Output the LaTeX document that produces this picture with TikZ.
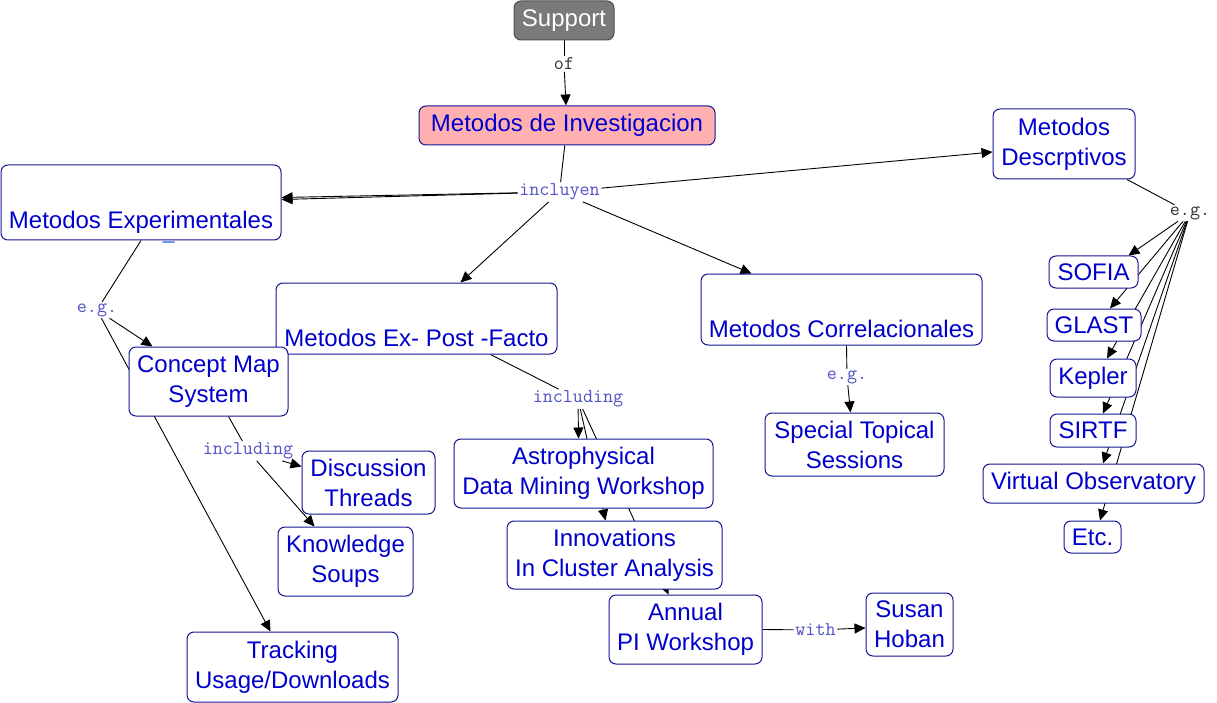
\documentclass[tikz,border=0pt]{standalone}
\usepackage{fontspec}
\setmainfont{Liberation Sans}
\usetikzlibrary{arrows.meta}
\pgfdeclarelayer{bg}
\pgfsetlayers{bg,main}
\definecolor{boxtext}{RGB}{0,0,204}
\definecolor{boxline}{RGB}{20,20,150}
\definecolor{lbltext}{RGB}{80,80,200}
\definecolor{lbldark}{RGB}{50,50,50}
\definecolor{supfill}{RGB}{122,122,122}
\definecolor{invfill}{RGB}{255,176,176}
\definecolor{markblue}{RGB}{110,150,230}
\newcommand{\blankline}{\rule{0pt}{27pt}}
\tikzset{
  box/.style={draw=boxline, line width=1pt, rounded corners=7pt, fill=white,
    text=boxtext, align=center, inner sep=0pt,
    font=\fontsize{24}{30}\selectfont},
  lbl/.style={inner sep=1.5pt, text=lbltext, font=\ttfamily\fontsize{19.5}{22}\selectfont},
  conn/.style={draw=black, line width=0.9pt},
  arr/.style={conn, -{Triangle[length=11pt,width=10pt]}}
}
\begin{document}
\begin{tikzpicture}[x=1pt,y=-1pt]
\begin{pgfonlayer}{bg}
\fill[white] (0,0) rectangle (1217,703);
\end{pgfonlayer}
\useasboundingbox (0,0) rectangle (1217,703);

% concepts
\node[box, fill=supfill, draw=black!70, text=white, minimum width=100, minimum height=39] (sup) at (564,20.5) {Support};
\node[box, fill=invfill, minimum width=296, minimum height=39] (inv) at (567,125.5) {Metodos de Investigacion};
\node[box, minimum width=280, minimum height=75] (exp) at (141,202.5) {\blankline\\Metodos Experimentales};
\node[box, minimum width=142, minimum height=70] (desc) at (1064,144) {Metodos\\Descrptivos};
\node[box, minimum width=281, minimum height=71] (epf) at (416.5,318.5) {\blankline\\Metodos Ex- Post -Facto};
\node[box, minimum width=281, minimum height=71] (cor) at (841.5,309.5) {\blankline\\Metodos Correlacionales};
\node[box, minimum width=159, minimum height=69] (cms) at (208.5,381.5) {Concept Map\\System};
\node[box, minimum width=133, minimum height=63] (dt) at (368.5,482.5) {Discussion\\Threads};
\node[box, minimum width=135, minimum height=69] (ks) at (345.5,561.5) {Knowledge\\Soups};
\node[box, minimum width=211, minimum height=70] (tr) at (292.5,667) {Tracking\\Usage/Downloads};
\node[box, minimum width=259, minimum height=69] (adm) at (583.5,473.5) {Astrophysical\\Data Mining Workshop};
\node[box, minimum width=215, minimum height=68] (ica) at (614.5,555) {Innovations\\In Cluster Analysis};
\node[box, minimum width=153, minimum height=69] (api) at (685.5,629.5) {Annual\\PI Workshop};
\node[box, minimum width=87, minimum height=63] (sh) at (909.5,624.5) {Susan\\Hoban};
\node[box, minimum width=179, minimum height=63] (sts) at (854.5,444.5) {Special Topical\\Sessions};
\node[box, minimum width=89, minimum height=32] (sofia) at (1093.5,272) {SOFIA};
\node[box, minimum width=94, minimum height=32] (glast) at (1094,325) {GLAST};
\node[box, minimum width=86, minimum height=38] (kep) at (1093,378) {Kepler};
\node[box, minimum width=86, minimum height=33] (sirtf) at (1093,430.5) {SIRTF};
\node[box, minimum width=221, minimum height=39] (vo) at (1093.5,483.5) {Virtual Observatory};
\node[box, minimum width=57, minimum height=32] (etc) at (1092.5,537) {Etc.};

% linking phrases
\node[lbl, text=lbldark] (lof) at (564,64) {of};
\node[lbl] (linc) at (559.5,192) {incluyen};
\node[lbl] (leg1) at (97,310) {e.g.};
\node[lbl] (linc2) at (248,451) {including};
\node[lbl] (linc3) at (578,399) {including};
\node[lbl] (leg2) at (847,377) {e.g.};
\node[lbl, text=lbldark] (leg3) at (1190,213) {e.g.};
\node[lbl] (lwith) at (815.5,630) {with};

\begin{pgfonlayer}{bg}
\draw[conn] (sup) -- (lof);
\draw[arr] (lof) -- (inv);
\draw[conn] (inv) -- (linc);
\draw[arr] (linc) -- ([yshift=5]exp.east);
\draw[arr] (linc) -- ([yshift=3]exp.east);
\draw[arr] (linc) -- ([yshift=-8]desc.west);
\draw[arr] (linc) -- ([xshift=44]epf.north);
\draw[arr] (linc) -- ([xshift=-90]cor.north);
\draw[conn] (exp.south) -- (leg1);
\draw[arr] (leg1) -- ([xshift=-56]cms.north);
\draw[arr] (leg1) -- ([xshift=-22]tr.north);
\draw[conn] ([xshift=20]cms.south) -- (linc2);
\draw[arr] (linc2) -- ([yshift=16]dt.west);
\draw[arr] (linc2) -- ([xshift=-31]ks.north);
\draw[conn] ([xshift=74]epf.south) -- (linc3);
\draw[arr] (linc3) -- ([xshift=-5]adm.north);
\draw[arr] (linc3) -- ([xshift=-9]ica.north);
\draw[arr] (linc3) -- ([xshift=-17]api.north);
\draw[conn] ([xshift=5]cor.south) -- (leg2);
\draw[arr] (leg2) -- ([xshift=-4]sts.north);
\draw[conn] ([xshift=63]desc.south) -- (leg3);
\draw[arr] (leg3) -- ([xshift=35]sofia.north);
\draw[arr] (leg3) -- ([xshift=16]glast.north);
\draw[arr] (leg3) -- ([xshift=14]kep.north);
\draw[arr] (leg3) -- ([xshift=10]sirtf.north);
\draw[arr] (leg3) -- ([xshift=9.5]vo.north);
\draw[arr] (leg3) -- ([xshift=7.5]etc.north);
\draw[conn] (api.east) -- (lwith);
\draw[arr] (lwith) -- ([yshift=-3.5]sh.west);
\end{pgfonlayer}
\draw[markblue, line width=2pt, line cap=round] ([xshift=22,yshift=-2]exp.south) -- ([xshift=33,yshift=-2]exp.south);
\end{tikzpicture}
\end{document}
